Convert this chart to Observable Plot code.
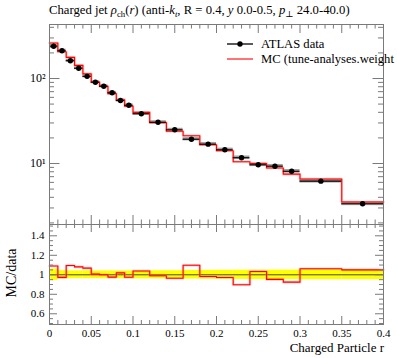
<!DOCTYPE html>
<html><head><meta charset="utf-8">
<script src="https://cdn.jsdelivr.net/npm/d3@7"></script>
<script src="https://cdn.jsdelivr.net/npm/@observablehq/plot@0.6"></script>
<style>
body{margin:0;background:#fff;}
#c{position:relative;width:397px;height:358px;overflow:hidden;background:#fff;}
#c svg{position:absolute;left:0;}
#c svg text{font-family:"Liberation Serif","DejaVu Serif",serif !important;}
</style></head><body><div id="c"></div>
<script>
// ---- data ----
const binLo = [0,0.01,0.02,0.03,0.04,0.05,0.06,0.07,0.08,0.09,0.10,0.12,0.14,0.16,0.18,0.20,0.22,0.24,0.26,0.28,0.30,0.35];
const binHi = [0.01,0.02,0.03,0.04,0.05,0.06,0.07,0.08,0.09,0.10,0.12,0.14,0.16,0.18,0.20,0.22,0.24,0.26,0.28,0.30,0.35,0.40];
const dataVals = [240,212,162,132,106,90.5,81.2,67.9,55.1,48.5,38.5,30.6,24.9,19.3,16.9,14.5,11.7,9.66,9.3,8.1,6.2,3.36];
const dataErr  = [0.058,0.042,0.04,0.04,0.04,0.04,0.04,0.04,0.04,0.04,0.042,0.042,0.042,0.044,0.045,0.046,0.047,0.048,0.048,0.048,0.05,0.05];
const mcVals   = [261.6,206.3,177.4,142.7,113.2,91.1,81.2,66.3,56.2,47.3,40.0,30.3,24.0,21.2,16.6,14.1,10.5,9.99,8.86,7.49,6.58,3.53];
const legendLabels = ["ATLAS data","MC (tune-analyses.weight"];
const xMajor = [0,0.05,0.1,0.15,0.2,0.25,0.3,0.35,0.4];
const xMinor = [0.01,0.02,0.03,0.04,0.06,0.07,0.08,0.09,0.11,0.12,0.13,0.14,0.16,0.17,0.18,0.19,0.21,0.22,0.23,0.24,0.26,0.27,0.28,0.29,0.31,0.32,0.33,0.34,0.36,0.37,0.38,0.39];
const yMainMajor = [10,100];
const yMainLabels = ["10\u00B9","10\u00B2"];
const yMainMinor = [2,3,4,5,6,7,8,9,20,30,40,50,60,70,80,90,200,300,400];
const rMajor = [0.6,0.8,1,1.2,1.4];
const rMinor = [0.5,0.55,0.65,0.7,0.75,0.85,0.9,0.95,1.05,1.1,1.15,1.25,1.3,1.35,1.45,1.5];

// ---- derived tables ----
const bins = binLo.map((lo,i)=>({lo, hi: binHi[i], mid:(lo+binHi[i])/2, d:dataVals[i], e:dataErr[i], mc:mcVals[i], r: mcVals[i]/dataVals[i]}));
const mcStep = bins.flatMap(b=>[{x:b.lo,y:b.mc},{x:b.hi,y:b.mc}]);
const rStep = bins.flatMap(b=>[{x:b.lo,y:b.r},{x:b.hi,y:b.r}]);

const font = "Liberation Serif, DejaVu Serif, serif";
const W = 397, mL = 49, mR = 14;
const fw = W - mL - mR;
const frameCol = "#7a7a7a";

function frameTicks(fh, yMaj, yMin, majX, minX, majY, minY){
  return [
    Plot.tickX(xMajor,{x:d=>d, stroke:frameCol, insetTop: fh-majX}),
    Plot.tickX(xMinor,{x:d=>d, stroke:frameCol, insetTop: fh-minX}),
    Plot.tickX(xMajor,{x:d=>d, stroke:frameCol, insetBottom: fh-majX}),
    Plot.tickX(xMinor,{x:d=>d, stroke:frameCol, insetBottom: fh-minX}),
    Plot.tickY(yMaj,{y:d=>d, stroke:frameCol, insetRight: fw-majY}),
    Plot.tickY(yMin,{y:d=>d, stroke:frameCol, insetRight: fw-minY}),
    Plot.tickY(yMaj,{y:d=>d, stroke:frameCol, insetLeft: fw-majY}),
    Plot.tickY(yMin,{y:d=>d, stroke:frameCol, insetLeft: fw-minY}),
    Plot.frame({stroke:frameCol})
  ];
}

// ---- main panel ----
const mainH = 230, mainTop = 24, mainBot = 6;
const main = Plot.plot({
  width: W, height: mainH,
  marginLeft: mL, marginRight: mR, marginTop: mainTop, marginBottom: mainBot,
  style: {fontFamily: font, fontSize: "11px", background: "transparent", color: "black"},
  x: {domain: [0,0.4], axis: null},
  y: {type: "log", domain: [1.916, 431.8], label: null},
  marks: [
    Plot.rect(bins,{x1:"lo",x2:"hi",y1:b=>b.d*(1-b.e),y2:b=>b.d*(1+b.e),fill:"#8a8a8a",fillOpacity:0.8}),
    Plot.line(mcStep,{x:"x",y:"y",stroke:"#ff8080",strokeWidth:2.6,strokeOpacity:0.45}),
    Plot.line(mcStep,{x:"x",y:"y",stroke:"#ff0000",strokeWidth:1.1}),
    Plot.ruleY(bins,{x1:"lo",x2:"hi",y:"d",stroke:"#000",strokeWidth:1.1}),
    Plot.ruleX(bins,{x:"mid",y1:b=>b.d*(1-b.e),y2:b=>b.d*(1+b.e),stroke:"#000",strokeWidth:1}),
    Plot.dot(bins,{x:"mid",y:"d",r:2.7,fill:"#000",stroke:null}),
    ...frameTicks(mainH-mainTop-mainBot, yMainMajor, yMainMinor, 9, 4.5, 10.5, 5),
    Plot.axisY(yMainMajor,{tickSize:0, tickPadding:4, label:null, tickFormat:(d)=>yMainLabels[yMainMajor.indexOf(d)], fontSize: 12})
  ]
});
main.style.top = "0px";

// ---- ratio panel ----
const rTop = 218, rH = 140, rMT = 6, rMB = 34;
const ratio = Plot.plot({
  width: W, height: rH,
  marginLeft: mL, marginRight: mR, marginTop: rMT, marginBottom: rMB,
  style: {fontFamily: font, fontSize: "11px", background: "transparent", color: "black"},
  x: {domain: [0,0.4], label: null},
  y: {domain: [0.49, 1.516], label: null},
  marks: [
    Plot.rect(bins,{x1:"lo",x2:"hi",y1:b=>1-b.e,y2:b=>1+b.e,fill:"#ffff00"}),
    Plot.ruleY([1],{stroke:"#333",strokeWidth:0.9}),
    Plot.line(rStep,{x:"x",y:"y",stroke:"#ff8080",strokeWidth:2.6,strokeOpacity:0.45}),
    Plot.line(rStep,{x:"x",y:"y",stroke:"#ff0000",strokeWidth:1.1}),
    ...frameTicks(rH-rMT-rMB, rMajor, rMinor, 8, 4, 8, 4),
    Plot.axisY(rMajor,{tickSize:0, tickPadding:5, label:null, tickFormat:d=>d===1?"1":d3.format(".1f")(d), fontSize: 11}),
    Plot.axisX(xMajor,{tickSize:0, tickPadding:5, label:null, tickFormat:d=>d===0?"0":String(+d.toFixed(2)), fontSize: 11})
  ]
});
ratio.style.top = rTop + "px";

for (const svg of [main, ratio]) {
  svg.setAttribute("font-family", font);
  svg.querySelectorAll("g, text").forEach(el => el.setAttribute("font-family", font));
}

// ---- overlay: title, legend, axis titles ----
const ns = "http://www.w3.org/2000/svg";
const ov = document.createElementNS(ns,"svg");
ov.setAttribute("width",W); ov.setAttribute("height",358);
ov.style.top = "0px";
ov.setAttribute("font-family", font);
ov.innerHTML = `
<text x="49" y="14" font-size="12.7">Charged jet <tspan font-style="italic">ρ</tspan><tspan font-size="8.8" dy="2.5">ch</tspan><tspan dy="-2.5">(</tspan><tspan font-style="italic">r</tspan>) (anti-<tspan font-style="italic">k</tspan><tspan font-size="8.8" font-style="italic" dy="2.5">t</tspan><tspan dy="-2.5">, R = 0.4, </tspan><tspan font-style="italic">y</tspan> 0.0-0.5, <tspan font-style="italic">p</tspan><tspan font-size="8.8" dy="2.5">⊥</tspan><tspan dy="-2.5"> 24.0-40.0)</tspan></text>
<line x1="227" x2="253" y1="44" y2="44" stroke="#000" stroke-width="1.3"/>
<circle cx="240" cy="44" r="2.7" fill="#000"/>
<text x="261" y="48" font-size="12.6">${legendLabels[0]}</text>
<line x1="227" x2="253" y1="59" y2="59" stroke="#ff0000" stroke-width="1.1"/>
<text x="261" y="63" font-size="12.6">${legendLabels[1]}</text>
<text x="384" y="352" font-size="13" text-anchor="end">Charged Particle r</text>
<text transform="translate(16,273) rotate(-90)" font-size="14" text-anchor="middle">MC/data</text>
`;

const c = document.getElementById("c");
c.appendChild(main);
c.appendChild(ratio);
c.appendChild(ov);
</script></body></html>
